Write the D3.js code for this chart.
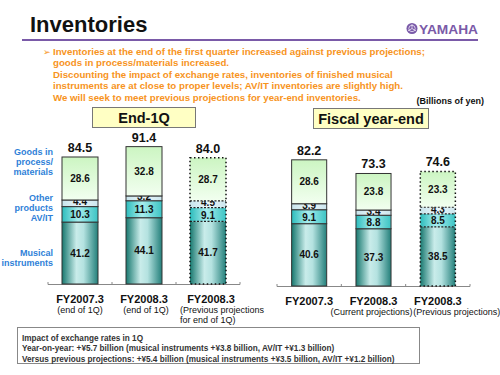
<!DOCTYPE html>
<html>
<head>
<meta charset="utf-8">
<script src="https://cdn.jsdelivr.net/npm/d3@7"></script>
<style>
  body { margin: 0; background: #fff; }
  svg text { font-family: "Liberation Sans", Arial, sans-serif; }
</style>
</head>
<body>
<div class="canvas"></div>
<script>
// ---- data (billions of yen) ----
const segments = ["musical", "avit", "other", "goods"];

const endCats = ["FY2007.3", "FY2008.3", "FY2008.3"];
const endSubs = [["(end of 1Q)"], ["(end of 1Q)"], ["(Previous projections", "for end of 1Q)"]];
const endMusical = [41.2, 44.1, 41.7];
const endAvit = [10.3, 11.3, 9.1];
const endOther = [4.4, 3.2, 4.5];
const endGoods = [28.6, 32.8, 28.7];
const endTotal = [84.5, 91.4, 84.0];

const yearCats = ["FY2007.3", "FY2008.3", "FY2008.3"];
const yearSubs = [[], ["(Current projections)"], ["(Previous projections)"]];
const yearMusical = [40.6, 37.3, 38.5];
const yearAvit = [9.1, 8.8, 8.5];
const yearOther = [3.9, 3.4, 4.3];
const yearGoods = [28.6, 23.8, 23.3];
const yearTotal = [82.2, 73.3, 74.6];

const textLines = [
  "Inventories at the end of the first quarter increased against previous projections;",
  "goods in process/materials increased.",
  "Discounting the impact of exchange rates, inventories of finished musical",
  "instruments are at close to proper levels; AV/IT inventories are slightly high.",
  "We will seek to meet previous projections for year-end inventories."
];
const noteLines = [
  "Impact of exchange rates in 1Q",
  "Year-on-year: +\u00a55.7 billion (musical instruments +\u00a53.8 billion, AV/IT +\u00a51.3 billion)",
  "Versus previous projections: +\u00a55.4 billion (musical instruments +\u00a53.5 billion, AV/IT +\u00a51.2 billion)"
];

const width = 500, height = 375;
const orange = "#f7941d", blue = "#2f7fd8", purple = "#7a5aa8";

const svg = d3.select('.canvas')
  .append('svg')
  .attr('width', width)
  .attr('height', height);

// gradients
const defs = svg.append('defs');
function hGrad(id, stops) {
  const g = defs.append('linearGradient').attr('id', id)
    .attr('x1', '0%').attr('x2', '100%').attr('y1', '0%').attr('y2', '0%');
  stops.forEach(s => g.append('stop').attr('offset', s[0]).attr('stop-color', s[1]));
}
hGrad('gMusical', [['0%', '#17786f'], ['40%', '#c9ecea'], ['60%', '#b4e2e0'], ['100%', '#237f7a']]);
hGrad('gAvit', [['0%', '#2cbcbc'], ['45%', '#a8eeee'], ['100%', '#3cc4c4']]);
hGrad('gOther', [['0%', '#c8e4ec'], ['50%', '#eaf6fa'], ['100%', '#cce6ee']]);
const gg = defs.append('linearGradient').attr('id', 'gGoods')
  .attr('x1', '0%').attr('x2', '0%').attr('y1', '0%').attr('y2', '100%');
gg.append('stop').attr('offset', '0%').attr('stop-color', '#ccf5c2');
gg.append('stop').attr('offset', '100%').attr('stop-color', '#f2fff0');

const fills = { musical: 'url(#gMusical)', avit: 'url(#gAvit)', other: 'url(#gOther)', goods: 'url(#gGoods)' };
// small nudge so the thin "other" label doesn't sit on the AV/IT label
const labelNudge = { musical: 0, avit: 0.5, other: -1.5, goods: 0 };

// ---- header ----
svg.append('text').attr('x', 30).attr('y', 32)
  .attr('font-size', 22).attr('font-weight', 'bold').attr('fill', '#111')
  .text('Inventories');

svg.append('line').attr('x1', 22).attr('x2', 478).attr('y1', 40).attr('y2', 40)
  .attr('stroke', purple).attr('stroke-width', 2);

// yamaha logo
const logo = svg.append('g').attr('transform', 'translate(412, 28.5)');
logo.append('circle').attr('r', 5.5).attr('fill', purple);
logo.append('circle').attr('r', 3.2).attr('fill', 'none').attr('stroke', '#d9cdea').attr('stroke-width', 1);
d3.range(3).forEach(i => {
  logo.append('line').attr('x1', 0).attr('y1', 0).attr('x2', 0).attr('y2', -4.5)
    .attr('stroke', '#e6def0').attr('stroke-width', 0.8)
    .attr('transform', `rotate(${i * 120})`);
});
svg.append('text').attr('x', 419).attr('y', 34)
  .attr('font-size', 13).attr('font-weight', 'bold').attr('fill', purple)
  .attr('textLength', 59).attr('lengthAdjust', 'spacingAndGlyphs')
  .text('YAMAHA');

// orange bullet text
svg.append('text').attr('x', 43).attr('y', 54.5)
  .attr('font-size', 9).attr('fill', orange).text('\u27a2');
svg.selectAll('text.note')
  .data(textLines)
  .enter().append('text')
  .attr('class', 'note')
  .attr('x', 53)
  .attr('y', (d, i) => 54.5 + i * 11.5)
  .attr('font-size', 9.7).attr('font-weight', 'bold').attr('fill', orange)
  .text(d => d);

svg.append('text').attr('x', 484).attr('y', 103.5).attr('text-anchor', 'end')
  .attr('font-size', 9).attr('font-weight', 'bold').attr('fill', '#111')
  .text('(Billions of yen)');

// ---- chart panels ----
function titleBox(x, y, w, h, label) {
  svg.append('rect').attr('x', x).attr('y', y).attr('width', w).attr('height', h)
    .attr('fill', '#ffffc4').attr('stroke', '#777').attr('stroke-width', 1);
  svg.append('text').attr('x', x + w / 2).attr('y', y + h / 2 + 5)
    .attr('text-anchor', 'middle').attr('font-size', 14.5).attr('font-weight', 'bold')
    .attr('fill', '#111').text(label);
}
titleBox(92.5, 107.5, 103, 20, 'End-1Q');
titleBox(313.5, 108.5, 115, 20, 'Fiscal year-end');

function drawChart(opt) {
  const rows = opt.cats.map((c, i) => ({
    i: i, musical: opt.musical[i], avit: opt.avit[i], other: opt.other[i], goods: opt.goods[i]
  }));

  const x = d3.scaleBand().domain(d3.range(opt.cats.length))
    .range(opt.xRange).paddingInner(opt.pad).paddingOuter(opt.pad / 2);
  const y = d3.scaleLinear().domain([0, 100]).range([opt.base, opt.base - opt.k * 100]);

  const stacked = d3.stack().keys(segments)(rows);
  const g = svg.append('g');

  // axis line with ticks at band edges
  g.append('line').attr('x1', opt.xRange[0]).attr('x2', opt.xRange[1])
    .attr('y1', opt.base + 0.5).attr('y2', opt.base + 0.5)
    .attr('stroke', '#888').attr('stroke-width', 1);
  const edges = d3.range(opt.cats.length + 1).map(i => opt.xRange[0] + i * x.step());
  g.selectAll('line.tick').data(edges).enter().append('line')
    .attr('class', 'tick')
    .attr('x1', d => d).attr('x2', d => d)
    .attr('y1', opt.base - 2).attr('y2', opt.base + 0.5)
    .attr('stroke', '#888');

  const layers = g.selectAll('g.layer').data(stacked).enter().append('g').attr('class', 'layer');

  layers.selectAll('rect')
    .data(layer => layer.map(d => ({ key: layer.key, d: d })))
    .enter().append('rect')
    .attr('x', s => x(s.d.data.i))
    .attr('width', x.bandwidth())
    .attr('y', s => y(s.d[1]))
    .attr('height', s => y(s.d[0]) - y(s.d[1]))
    .attr('fill', s => fills[s.key])
    .attr('stroke', s => s.d.data.i === 2 ? 'none' : '#333')
    .attr('stroke-width', 1);

  // dashed separators and dotted outline for projection bar
  stacked.forEach(layer => {
    const d = layer[2];
    if (layer.key !== 'goods') {
      g.append('line')
        .attr('x1', x(2)).attr('x2', x(2) + x.bandwidth())
        .attr('y1', y(d[1])).attr('y2', y(d[1]))
        .attr('stroke', '#222').attr('stroke-width', 1.2).attr('stroke-dasharray', '2,1.5');
    }
  });
  const top = stacked[stacked.length - 1][2][1];
  g.append('rect')
    .attr('x', x(2)).attr('y', y(top))
    .attr('width', x.bandwidth()).attr('height', y(0) - y(top))
    .attr('fill', 'none').attr('stroke', '#111').attr('stroke-width', 1.5)
    .attr('stroke-dasharray', '1.5,2.5');

  // segment values
  layers.selectAll('text')
    .data(layer => layer.map(d => ({ key: layer.key, d: d })))
    .enter().append('text')
    .attr('x', s => x(s.d.data.i) + x.bandwidth() / 2)
    .attr('y', s => (y(s.d[0]) + y(s.d[1])) / 2 + 3.6 + labelNudge[s.key])
    .attr('text-anchor', 'middle')
    .attr('font-size', 10).attr('font-weight', 'bold').attr('fill', '#111')
    .text(s => (s.d[1] - s.d[0]).toFixed(1));

  // totals
  g.selectAll('text.total').data(opt.total).enter().append('text')
    .attr('class', 'total')
    .attr('x', (d, i) => x(i) + x.bandwidth() / 2)
    .attr('y', d => y(d) - 5)
    .attr('text-anchor', 'middle')
    .attr('font-size', 12.5).attr('font-weight', 'bold').attr('fill', '#111')
    .text(d => d.toFixed(1));

  // category labels
  g.selectAll('text.cat').data(opt.cats).enter().append('text')
    .attr('class', 'cat')
    .attr('x', (d, i) => x(i) + x.bandwidth() / 2 + opt.catDx[i])
    .attr('y', opt.base + 19)
    .attr('text-anchor', 'middle')
    .attr('font-size', 11).attr('font-weight', 'bold').attr('fill', '#111')
    .text(d => d);

  opt.subs.forEach((lines, i) => {
    lines.forEach((t, j) => {
      const anchor = opt.subAnchor[i];
      g.append('text')
        .attr('x', anchor === 'start' ? x(i) + opt.subDx[i] : x(i) + x.bandwidth() / 2 + opt.subDx[i])
        .attr('y', opt.base + 29 + j * 9.5)
        .attr('text-anchor', anchor)
        .attr('font-size', 9).attr('fill', '#111')
        .text(t);
    });
  });
}

drawChart({
  cats: endCats, subs: endSubs, musical: endMusical, avit: endAvit, other: endOther,
  goods: endGoods, total: endTotal,
  xRange: [48, 240], pad: 0.4375, base: 284, k: 1.503,
  catDx: [0, 0, 3], subDx: [0, 2, -10], subAnchor: ['middle', 'middle', 'start']
});

drawChart({
  cats: yearCats, subs: yearSubs, musical: yearMusical, avit: yearAvit, other: yearOther,
  goods: yearGoods, total: yearTotal,
  xRange: [277, 470], pad: 0.455, base: 286, k: 1.535,
  catDx: [0, 0, 0], subDx: [0, -2, 19], subAnchor: ['middle', 'middle', 'middle']
});

// left legend labels
const legendLabels = [
  { lines: ['Goods in', 'process/', 'materials'], y: 155 },
  { lines: ['Other', 'products', 'AV/IT'], y: 200.5 },
  { lines: ['Musical', 'instruments'], y: 256 }
];
legendLabels.forEach(l => {
  l.lines.forEach((t, j) => {
    svg.append('text').attr('x', 53).attr('y', l.y + j * 10)
      .attr('text-anchor', 'end').attr('font-size', 9).attr('font-weight', 'bold')
      .attr('fill', blue).text(t);
  });
});

// exchange rate note box
svg.append('rect').attr('x', 17.5).attr('y', 327.5).attr('width', 402).attr('height', 36)
  .attr('fill', '#fff').attr('stroke', '#888').attr('stroke-width', 1);
svg.selectAll('text.fx').data(noteLines).enter().append('text')
  .attr('class', 'fx')
  .attr('x', 22)
  .attr('y', (d, i) => 340.5 + i * 10.5)
  .attr('font-size', 8.2).attr('font-weight', 'bold').attr('fill', '#333')
  .text(d => d);
</script>
</body>
</html>
